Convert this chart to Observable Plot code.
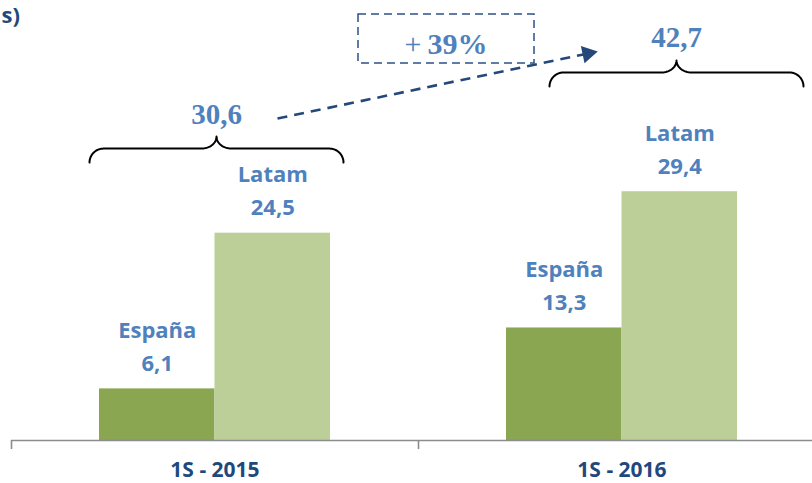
<!DOCTYPE html>
<html><head><meta charset="utf-8">
<script src="https://cdn.jsdelivr.net/npm/d3@7"></script>
<script src="https://cdn.jsdelivr.net/npm/@observablehq/plot@0.6"></script>
<style>html,body{margin:0;padding:0;background:#fff;overflow:hidden}</style>
</head><body><div id="chart"></div>
<script>
// ---- data ----
const periods = ["1S - 2015", "1S - 2016"];
const regions = ["España", "Latam"];
const espana = [6.1, 13.3];
const latam = [24.5, 29.4];
const totals = [30.6, 42.7];
const growthPct = 39;
const unitNote = "s)";

// ---- layout ----
const W = 812, H = 483;
const mL = 11, mR = -13, mT = 0, mB = 43;
const yMax = 52;
const band = (W - mR - mL) / periods.length;
const ky = (H - mB - mT) / yMax;
const X = v => mL + v * band, Y = v => H - mB - v * ky;
const ix = p => (p - mL) / band, iy = p => (H - mB - p) / ky;
const pad = 88 / band;
const fmt = v => v.toFixed(1).replace(".", ",");

const blue = "#4f81bd", navy = "#1f497d";
const colors = {"España": "#8aa651", "Latam": "#bccf99"};

const bars = [];
periods.forEach((p, i) => {
  bars.push({period: p, region: regions[0], value: espana[i], x1: i + pad, x2: i + 0.5});
  bars.push({period: p, region: regions[1], value: latam[i], x1: i + 0.5, x2: i + 1 - pad});
});

// braces (annotation) anchored on totals
const braceShift = [1.5, 54.5], braceLift = [33, 6.7];
const bcx = totals.map((t, i) => X(i + 0.5) + braceShift[i]);
const bline = totals.map((t, i) => Y(t) - braceLift[i]);
const hw = 127, up = 12, down = 14, r1 = 14, r2 = 15, N = 16;
const braceRows = [];
totals.forEach((t, g) => {
  const half = [];
  for (let k = 0; k <= N; k++) {
    const th = Math.PI - k / N * Math.PI / 2;
    half.push([-hw + r1 + r1 * Math.cos(th), down - down * Math.sin(th)]);
  }
  for (let k = 0; k <= N; k++) {
    const th = -Math.PI / 2 + k / N * Math.PI / 2;
    half.push([-r2 + r2 * Math.cos(th), -up - up * Math.sin(th)]);
  }
  const full = half.concat(half.slice(0, -1).reverse().map(([a, b]) => [-a, b]));
  full.forEach(([a, b]) => braceRows.push({g, x: ix(bcx[g] + a), y: iy(bline[g] + b)}));
});

// growth arrow
const sx = bcx[0] + 61, sy = bline[0] - 30;
const tx = bcx[1] - 79, ty = bline[1] - 21;
const len = Math.hypot(tx - sx, ty - sy);
const ux = (tx - sx) / len, uy = (ty - sy) / len;
const headLen = 15;
const arrowLine = [{x1: ix(sx), y1: iy(sy), x2: ix(tx - ux * (headLen - 2)), y2: iy(ty - uy * (headLen - 2))}];
const headAngle = Math.atan2(ux, -uy) * 180 / Math.PI;
const arrowHead = [{x: ix(tx - ux * 10), y: iy(ty - uy * 10), rotate: headAngle}];

// growth box
const boxCx = (bcx[0] + bcx[1]) / 2, boxCy = (bline[0] + bline[1]) / 2 - 71.5;
const box = [{x1: ix(boxCx - 88), x2: ix(boxCx + 88), y1: iy(boxCy - 24.5), y2: iy(boxCy + 24.5)}];

const plot = Plot.plot({
  width: W, height: H,
  marginLeft: mL, marginRight: mR, marginTop: mT, marginBottom: mB,
  x: {type: "linear", domain: [0, periods.length], axis: null},
  y: {domain: [0, yMax], axis: null},
  style: {fontFamily: "'Open Sans', sans-serif", background: "white", overflow: "visible"},
  marks: [
    Plot.rect(bars, {x1: "x1", x2: "x2", y1: 0, y2: "value", fill: d => colors[d.region]}),
    Plot.ruleY([0], {stroke: "#8c8c8c", strokeWidth: 1.6}),
    Plot.ruleX(d3.range(periods.length + 1), {y1: 0, y2: iy(H - mB + 9), stroke: "#8c8c8c", strokeWidth: 1.6}),
    Plot.text(periods, {x: (d, i) => i + 0.5, y: 0, dy: 36, text: d => d, lineAnchor: "bottom",
      fontSize: 21, fontWeight: "bold", fill: navy}),
    Plot.text(bars, {x: d => (d.x1 + d.x2) / 2, y: "value", text: d => `${d.region}\n${fmt(d.value)}`,
      lineAnchor: "bottom", lineHeight: 1.5, dy: -18, fontSize: 22, fontWeight: "bold", fill: blue}),
    Plot.line(braceRows, {x: "x", y: "y", z: "g", stroke: "black", strokeWidth: 2, curve: "linear"}),
    Plot.text(totals, {x: (d, i) => ix(bcx[i]), y: (d, i) => iy(bline[i]), dy: -25, text: d => fmt(d),
      lineAnchor: "bottom", fontSize: 29, fontWeight: "bold", fill: blue,
      fontFamily: "'Liberation Serif', 'Times New Roman', serif"}),
    Plot.rect(box, {x1: "x1", x2: "x2", y1: "y1", y2: "y2", fill: "none", stroke: "#2c5286",
      strokeWidth: 1.5, strokeDasharray: "8,5"}),
    Plot.link(arrowLine, {x1: "x1", y1: "y1", x2: "x2", y2: "y2", stroke: "#24487a",
      strokeWidth: 2.6, strokeDasharray: "10,7"}),
    Plot.dot(arrowHead, {x: "x", y: "y", rotate: "rotate", symbol: "triangle", r: 6.6, fill: "#24487a", stroke: "none"}),
    Plot.text(["+"], {x: ix(boxCx - 25), y: iy(boxCy + 15), text: d => d, textAnchor: "end",
      lineAnchor: "bottom", fontSize: 30, fill: blue, fontFamily: "'Liberation Serif', serif"}),
    Plot.text([growthPct], {x: ix(boxCx - 19), y: iy(boxCy + 15), text: d => `${d}%`, textAnchor: "start",
      lineAnchor: "bottom", fontSize: 30, fontWeight: "bold", fill: blue, fontFamily: "'Liberation Serif', serif"}),
    Plot.text([unitNote], {frameAnchor: "top-left", text: d => d, textAnchor: "start", lineAnchor: "top",
      dx: -10, dy: 7, fontSize: 22, fontWeight: "bold", fill: navy})
  ]
});
document.getElementById("chart").appendChild(plot);
</script>
</body></html>
